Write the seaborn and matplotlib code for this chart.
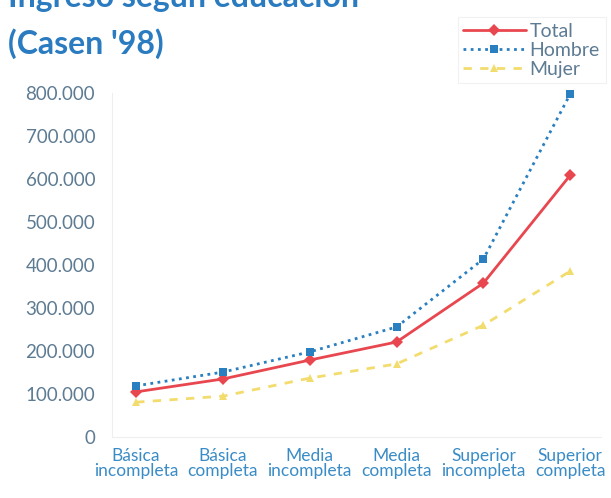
import pandas as pd
import seaborn as sns
import matplotlib.pyplot as plt
from matplotlib.ticker import FuncFormatter

# Data
levels = ["Básica\nincompleta", "Básica\ncompleta", "Media\nincompleta",
          "Media\ncompleta", "Superior\nincompleta", "Superior\ncompleta"]
total = [105000, 135000, 179000, 221000, 358000, 609000]
hombre = [119000, 151000, 198000, 256000, 414000, 798000]
mujer = [81000, 95000, 137000, 170000, 260000, 386000]

data = pd.DataFrame({
    "nivel": levels * 3,
    "ingreso": total + hombre + mujer,
    "serie": ["Total"] * 6 + ["Hombre"] * 6 + ["Mujer"] * 6,
})

sns.set_style("white")
plt.rcParams["font.family"] = ["Lato", "DejaVu Sans"]

TICK_COLOR = "#5d7b93"
BLUE_TEXT = "#3a8cc6"
palette = {"Total": "#e8474f", "Hombre": "#2a7fc0", "Mujer": "#f3dc6e"}
dashes = {"Total": "", "Hombre": (1, 1.6), "Mujer": (3, 3)}
markers = {"Total": "D", "Hombre": "s", "Mujer": "^"}

fig = plt.figure(figsize=(6.11, 4.98), dpi=100)
ax = fig.add_axes([0.183, 0.1225, 0.8, 0.6905])

sns.lineplot(
    data, x="nivel", y="ingreso", hue="serie", style="serie",
    palette=palette, dashes=dashes, markers=markers,
    markersize=6, linewidth=2, markeredgewidth=0, ax=ax, clip_on=False,
)

ax.set_xlim(-0.28, 5.35)
ax.set_ylim(0, 800000)
ax.set_yticks(range(0, 800001, 100000))
ax.yaxis.set_major_formatter(
    FuncFormatter(lambda v, p: f"{int(v):,}".replace(",", "."))
)
ax.set_xlabel("")
ax.set_ylabel("")
ax.tick_params(axis="y", labelsize=13.5, labelcolor=TICK_COLOR, length=0, pad=12)
ax.tick_params(axis="x", labelsize=12.5, labelcolor=BLUE_TEXT, length=0, pad=8)
for lbl in ax.get_xticklabels():
    lbl.set_linespacing(0.95)

for side in ["top", "right"]:
    ax.spines[side].set_visible(False)
for side in ["left", "bottom"]:
    ax.spines[side].set_color("#eeeeee")
    ax.spines[side].set_linewidth(0.8)

leg = ax.legend(
    loc="upper right", bbox_to_anchor=(1.03, 1.25), fontsize=14,
    handlelength=3.2, handletextpad=0.2, labelspacing=0.1,
    frameon=True, fancybox=False, borderpad=0.3,
)
leg.get_frame().set_edgecolor("#eeeeee")
leg.get_frame().set_linewidth(0.8)
for txt in leg.get_texts():
    txt.set_color(TICK_COLOR)

fig.text(0.013, 0.985, "Ingreso según educación", fontsize=23,
         fontweight="bold", color="#2a7bbf", va="baseline")
fig.text(0.013, 0.892, "(Casen '98)", fontsize=23,
         fontweight="bold", color="#2a7bbf", va="baseline")

plt.savefig("out.png", dpi=100)
